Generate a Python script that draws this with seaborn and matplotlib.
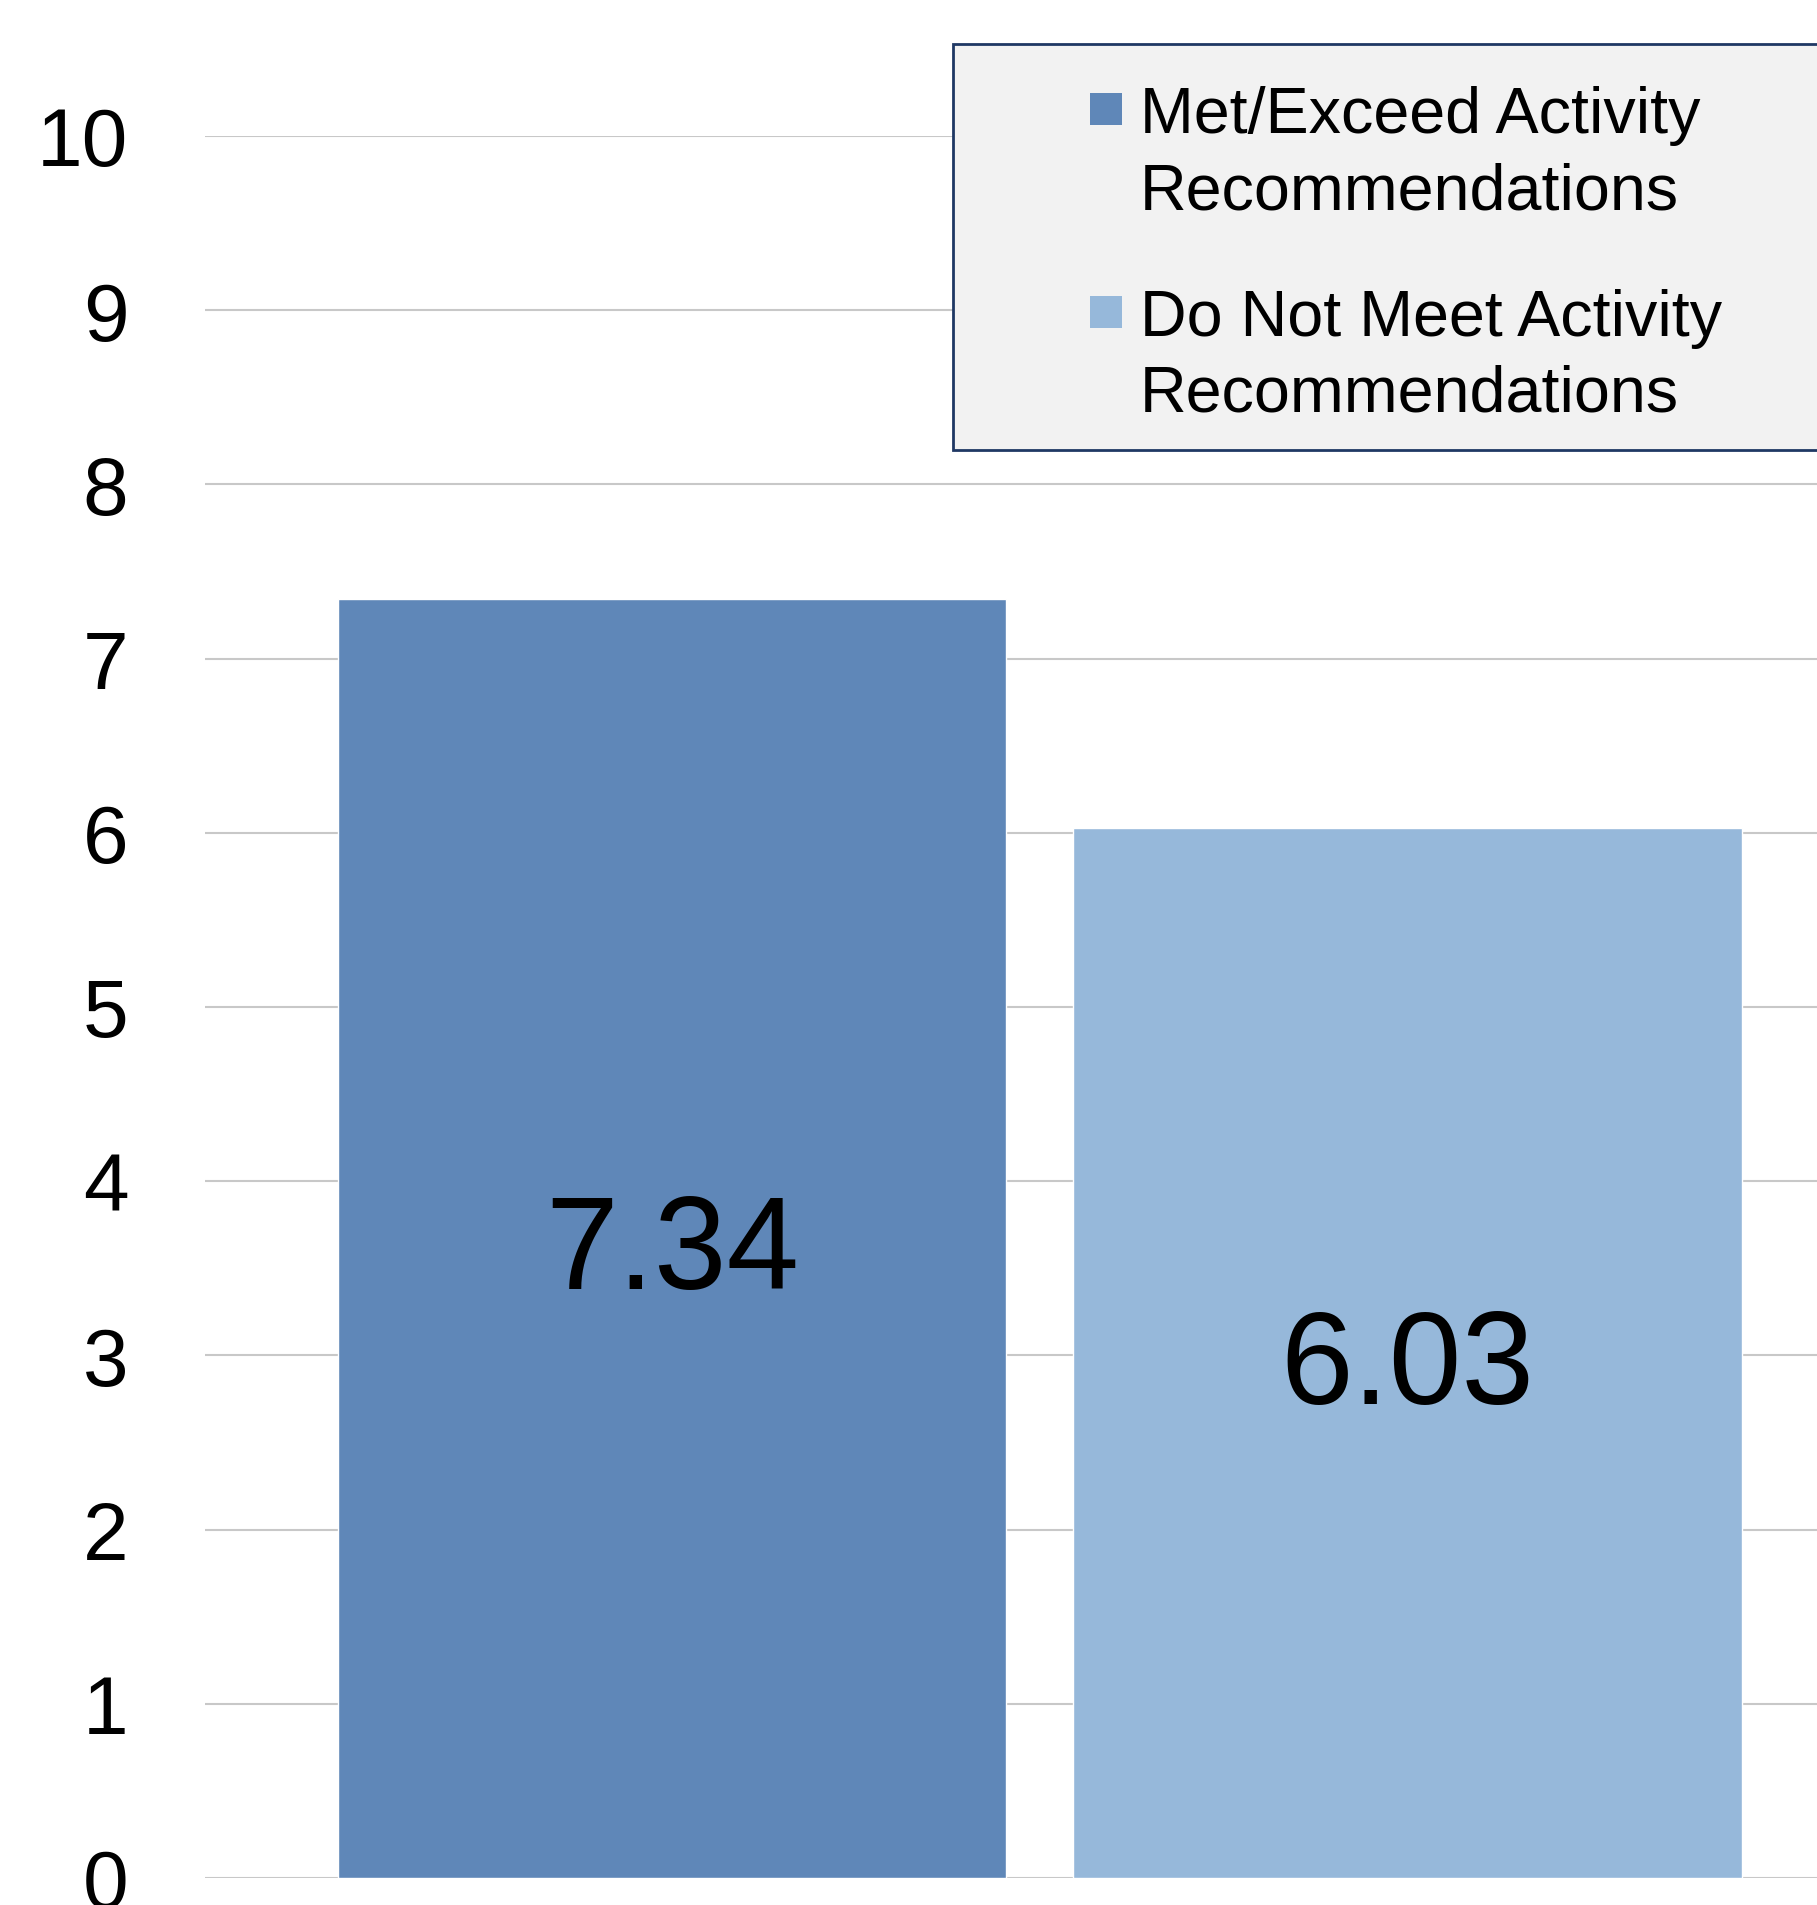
import matplotlib
matplotlib.use("Agg")
import matplotlib.pyplot as plt
import seaborn as sns
import pandas as pd
from matplotlib.patches import Rectangle

# DATA
categories = ["Met/Exceed Activity\nRecommendations", "Do Not Meet Activity\nRecommendations"]
values = [7.34, 6.03]
value_labels = ["7.34", "6.03"]
colors = ["#5f87b8", "#96b8da"]
y_ticks = [0, 1, 2, 3, 4, 5, 6, 7, 8, 9, 10]

sns.set_style("white")
plt.rcParams["font.family"] = ["Liberation Sans", "DejaVu Sans"]

W, H = 1817, 1906
fig = plt.figure(figsize=(W / 100, H / 100), dpi=100)
ax = fig.add_axes([205 / W, 27 / H, (W - 205) / W, (1879 - 137) / H])

df = pd.DataFrame({"group": categories, "value": values})
sns.barplot(data=df, x="group", y="value", hue="group", palette=colors,
            order=categories, hue_order=categories, width=0.909,
            legend=False, saturation=1, ax=ax, zorder=2)

ax.set_xlim(-0.635, 1.557)
ax.set_ylim(0, 10)
ax.set_yticks(y_ticks)
ax.set_yticklabels([str(t) for t in y_ticks], fontsize=59, color="black")
ax.tick_params(axis="y", length=0, pad=55)
ax.set_xticks([])
ax.set_xlabel("")
ax.set_ylabel("")
ax.yaxis.grid(True, color="#c8c8c8", linewidth=1.5, zorder=0)
ax.set_axisbelow(True)
for s in ax.spines.values():
    s.set_visible(False)

# value labels in the middle of each bar
for i, (v, lab) in enumerate(zip(values, value_labels)):
    ax.annotate(lab, (i, v / 2), xytext=(0, -11), textcoords="offset points",
                ha="center", va="center", fontsize=94, color="black")

# legend box (cut off on the right like the original)
fig.patches.append(Rectangle((953 / W, 1 - 451 / H), 1.0, (451 - 45) / H,
                             transform=fig.transFigure, facecolor="#f2f2f2",
                             edgecolor="#1f3864", linewidth=2, zorder=5))
entry_tops = [94, 297]
for top, lab, c in zip(entry_tops, categories, colors):
    fig.patches.append(Rectangle((1090 / W, 1 - (top + 32) / H), 32 / W, 32 / H,
                                 transform=fig.transFigure, facecolor=c,
                                 edgecolor="none", zorder=6))
    # baseline alignment uses the last line
    fig.text(1140 / W, 1 - (209 + top - 94) / H, lab, fontsize=46.5,
             ha="left", va="baseline", linespacing=1.33, color="black", zorder=7)

fig.savefig("out.png", dpi=100)
